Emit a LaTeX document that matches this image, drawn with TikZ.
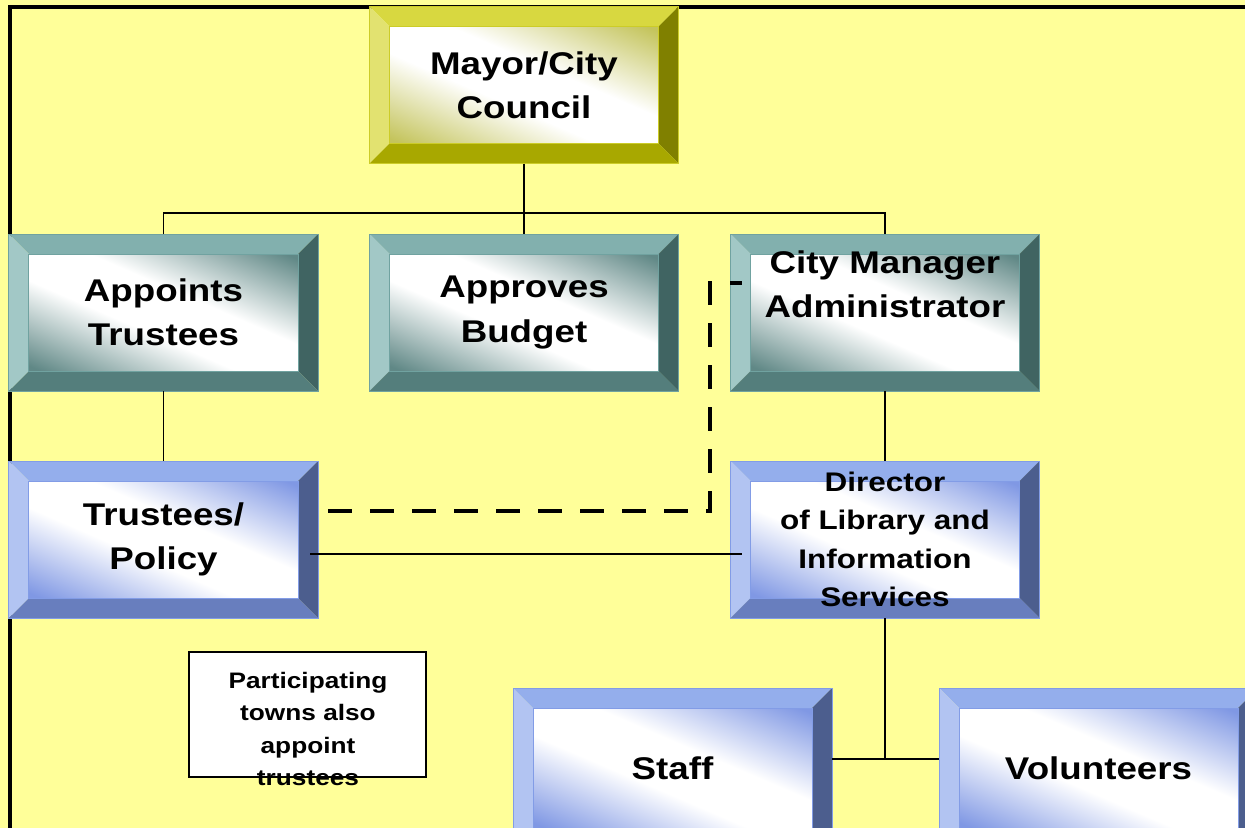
\documentclass[tikz,border=0pt]{standalone}
\usepackage{fontspec}
\setmainfont{Liberation Sans}[FakeStretch=1.17]
\usetikzlibrary{calc}

% page and frame
\definecolor{paper}{RGB}{255,255,153}
% olive scheme
\definecolor{cYtop}{RGB}{216,216,64}
\definecolor{cYleft}{RGB}{226,226,112}
\definecolor{cYright}{RGB}{128,128,0}
\definecolor{cYbot}{RGB}{168,168,0}
\definecolor{cYedge}{RGB}{204,204,40}
\definecolor{cYface}{RGB}{196,196,92}
% teal scheme
\definecolor{cTtop}{RGB}{130,176,174}
\definecolor{cTleft}{RGB}{162,200,198}
\definecolor{cTright}{RGB}{64,100,98}
\definecolor{cTbot}{RGB}{84,126,124}
\definecolor{cTedge}{RGB}{112,162,160}
\definecolor{cTface}{RGB}{96,136,134}
% blue scheme
\definecolor{cBtop}{RGB}{148,174,236}
\definecolor{cBleft}{RGB}{178,196,242}
\definecolor{cBright}{RGB}{76,94,142}
\definecolor{cBbot}{RGB}{104,126,190}
\definecolor{cBedge}{RGB}{130,156,230}
\definecolor{cBface}{RGB}{128,152,228}

% diagonal face fill: tinted corners, white band through the middle
\pgfdeclarehorizontalshading{shY}{100bp}{color(0bp)=(cYface); color(16bp)=(cYface); color(42bp)=(white); color(58bp)=(white); color(84bp)=(cYface); color(100bp)=(cYface)}
\pgfdeclarehorizontalshading{shT}{100bp}{color(0bp)=(cTface); color(16bp)=(cTface); color(42bp)=(white); color(58bp)=(white); color(84bp)=(cTface); color(100bp)=(cTface)}
\pgfdeclarehorizontalshading{shB}{100bp}{color(0bp)=(cBface); color(16bp)=(cBface); color(42bp)=(white); color(58bp)=(white); color(84bp)=(cBface); color(100bp)=(cBface)}

\pgfdeclarelayer{back}
\pgfdeclarelayer{bev}
\pgfsetlayers{back,bev,main}

% bevelled frame behind a node: #1 node name, #2 colour scheme (Y, T or B)
\newcommand\bevelbox[2]{%
  \begin{pgfonlayer}{bev}
    \path (#1.north west) coordinate (o1) (#1.north east) coordinate (o2)
          (#1.south east) coordinate (o3) (#1.south west) coordinate (o4);
    \path ($(o1)+(20,-20)$) coordinate (i1) ($(o2)+(-20,-20)$) coordinate (i2)
          ($(o3)+(-20,20)$) coordinate (i3) ($(o4)+(20,20)$) coordinate (i4);
    \fill[c#2top] (o1) -- (o2) -- (i2) -- (i1) -- cycle;
    \fill[c#2left] (o1) -- (i1) -- (i4) -- (o4) -- cycle;
    \fill[c#2right] (o2) -- (o3) -- (i3) -- (i2) -- cycle;
    \fill[c#2bot] (o4) -- (i4) -- (i3) -- (o3) -- cycle;
    % face: a square shaded along its diagonal, stretched onto the inner panel
    \path ($(i2)-(i4)$); \pgfgetlastxy{\facew}{\faceh}%
    \pgfmathsetmacro\facesx{\facew/100bp}%
    \pgfmathsetmacro\facesy{\faceh/100bp}%
    \shade[shading=sh#2, shading angle=45,
           transform canvas={shift={(i4)}, xscale=\facesx, yscale=\facesy}]
      (0,0) rectangle (100,100);
    \draw[c#2edge, line width=1bp] (o1) rectangle (o3) (i1) rectangle (i3);
  \end{pgfonlayer}}

\tikzset{
  boxnode/.style={minimum width=309bp, minimum height=157bp, inner sep=0pt, outer sep=0pt},
  wide/.style={minimum width=319bp, minimum height=160bp},
  txtL/.style={font=\bfseries\fontsize{31.5}{44.5}\selectfont, align=center, inner sep=0pt},
  txtM/.style={font=\bfseries\fontsize{27}{38.5}\selectfont, align=center, inner sep=0pt},
  txtS/.style={font=\bfseries\fontsize{22.5}{32.4}\selectfont, align=center, inner sep=0pt},
  link/.style={line width=1.8bp, black},
  dotted link/.style={line width=4.5bp, black, dash pattern=on 24bp off 18bp},
  notebox/.style={draw=black, line width=1.6bp, fill=white, minimum width=237bp, minimum height=125bp, inner sep=0pt}
}

\begin{document}
\begin{tikzpicture}[x=1bp, y=1bp]
  \useasboundingbox (0,0) rectangle (1245,-828);

  \begin{pgfonlayer}{back}
    \fill[paper] (0,0) rectangle (1245,-828);
    \draw[line width=4.5bp] (10,-860) -- (10,-7) -- (1270,-7);
  \end{pgfonlayer}

  % boxes
  \node[boxnode, txtL] (mayor)   at (524,-85)     {Mayor/City\\Council};
  \node[boxnode, txtL] (appoint) at (163.5,-312.5) {Appoints\\Trustees};
  \node[boxnode, txtL] (budget)  at (524,-312.5)  {Approves\\Budget};
  \node[boxnode]       (cm)      at (885,-312.5)  {};
  \node[txtL] (cmtext) at ($(cm.center)+(0,28)$) {City Manager\\Administrator};
  \node[boxnode, txtL] (tp)      at (163.5,-539.5) {Trustees/\\Policy};
  \node[boxnode, txtM] (dir)     at (885,-539.5)  {Director\\of Library and\\Information\\Services};
  \node[boxnode, wide, txtL] (staff) at (672.5,-768) {Staff};
  \node[boxnode, wide, txtL] (vol)   at (1098.5,-768) {Volunteers};

  \bevelbox{mayor}{Y}
  \bevelbox{appoint}{T}
  \bevelbox{budget}{T}
  \bevelbox{cm}{T}
  \bevelbox{tp}{B}
  \bevelbox{dir}{B}
  \bevelbox{staff}{B}
  \bevelbox{vol}{B}

  % note
  \node[notebox] (note) at (307.5,-714.5) {};
  \node[txtS] (notetext) at ($(note.center)+(0.5,-14.5)$) {Participating\\towns also\\appoint\\trustees};

  % connectors
  \draw[link] (mayor.south) -- (budget.north);
  \draw[link] (appoint.north) -- ++(0,21) -| (cm.north);
  \draw[link] (appoint.south) -- (tp.north);
  \draw[link] (cm.south) -- (dir.north);
  \draw[link] ($(tp.east)+(-8,-14.5)$) -- ($(dir.west)+(11,-14.5)$);
  \coordinate (split) at ($(dir.south)+(0,-141)$);
  \draw[link] (dir.south) -- (split);
  \draw[link] (staff.east |- split) -- (vol.west |- split);
  \draw[dotted link] ($(tp.east)+(10,28.5)$) -| ($(cm.west)+(-20.5,29.5)$) -- ($(cm.west)+(11.5,29.5)$);
\end{tikzpicture}
\end{document}
